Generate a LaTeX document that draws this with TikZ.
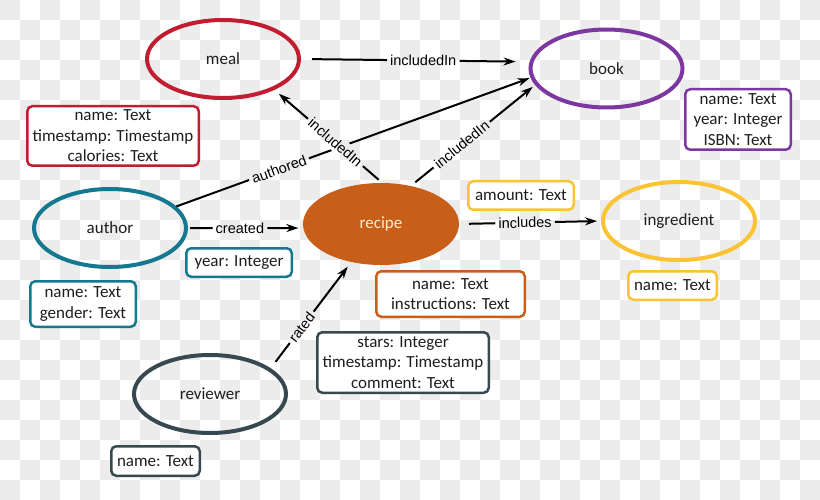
\documentclass[tikz,border=0pt]{standalone}
\usepackage{fontspec}
\setmainfont{Carlito}
\newfontfamily\relfont{Liberation Sans}
\usetikzlibrary{arrows.meta,shapes.geometric}

\definecolor{ink}{RGB}{30,30,30}
\definecolor{checker}{RGB}{236,236,236}
\definecolor{mealred}{RGB}{193,28,48}
\definecolor{bookpurple}{RGB}{125,55,160}
\definecolor{authorteal}{RGB}{20,120,145}
\definecolor{recipeorange}{RGB}{200,95,25}
\definecolor{recipetext}{RGB}{255,236,214}
\definecolor{ingredientyellow}{RGB}{250,195,50}
\definecolor{reviewerslate}{RGB}{55,72,80}

\begin{document}
\begin{tikzpicture}[x=1pt,y=-1pt,>={Stealth[length=12pt,width=8pt]},
    entity node/.style={ellipse,draw,line width=4pt,minimum width=152pt,minimum height=78pt,
                        font=\fontsize{17}{20}\selectfont,text=ink},
    prop node/.style={draw,rounded corners=5pt,line width=2.5pt,fill=white,align=center,
                      inner sep=0pt,font=\fontsize{17}{20.5}\selectfont,text=ink},
    rel label/.style={font=\relfont\fontsize{14.5}{16}\selectfont,sloped,inner sep=3pt,text=black},
    rel/.style={line width=2pt,draw=black}]

  % checkerboard background
  \useasboundingbox (0,0) rectangle (820,500);
  \fill[white] (0,0) rectangle (820,500);
  \foreach \j in {0,...,24}
    \foreach \i in {0,...,40}
      {\pgfmathtruncatemacro\odd{mod(\i+\j,2)}
       \ifnum\odd=0 \fill[checker] (20*\i,20*\j) rectangle +(20,20); \fi}

  % entities
  \node[entity node, draw=mealred] (meal) at (223,59) {meal};
  \node[entity node, draw=bookpurple] (book) at (606.5,68.5) {book};
  \node[entity node, draw=authorteal] (author) at (110,228) {author};
  \node[entity node, draw=recipeorange, fill=recipeorange, text=recipetext] (recipe) at (381,224) {recipe};
  \node[entity node, draw=ingredientyellow] (ingredient) at (679,221) {ingredient};
  \node[entity node, draw=reviewerslate] (reviewer) at (210,394) {reviewer};

  % properties
  \node[prop node, draw=mealred, minimum width=171.5pt, minimum height=59.5pt] (mealP) at (113,136)
    {name: Text\\timestamp: Timestamp\\calories: Text};
  \node[prop node, draw=bookpurple, minimum width=105.5pt, minimum height=60.5pt] (bookP) at (738,119.5)
    {name: Text\\year: Integer\\ISBN: Text};
  \node[prop node, draw=authorteal, minimum width=105.5pt, minimum height=45.5pt] (authorP) at (83,304)
    {name: Text\\gender: Text};
  \node[prop node, draw=authorteal, minimum width=105.5pt, minimum height=28.5pt] (createdP) at (239,262.5)
    {year: Integer};
  \node[prop node, draw=recipeorange, minimum width=148.5pt, minimum height=45.5pt] (recipeP) at (450.5,294)
    {name: Text\\instructions: Text};
  \node[prop node, draw=ingredientyellow, minimum width=105.5pt, minimum height=28.5pt] (includesP) at (521,195.5)
    {amount: Text};
  \node[prop node, draw=ingredientyellow, minimum width=88.5pt, minimum height=28.5pt] (ingredientP) at (672.5,285.5)
    {name: Text};
  \node[prop node, draw=reviewerslate, minimum width=171.5pt, minimum height=60.5pt] (ratedP) at (403,362.5)
    {stars: Integer\\timestamp: Timestamp\\comment: Text};
  \node[prop node, draw=reviewerslate, minimum width=88.5pt, minimum height=29.5pt] (reviewerP) at (155.5,461)
    {name: Text};

  % relationships: labels first, then lines clipped around them
  \def\rels{meal.east/book.175/0.535/includedIn/11pt/14pt,
            author.18/book.187/0.29/authored/0pt/1pt,
            recipe.88/meal.-31/0.435/includedIn/5pt/6pt,
            recipe.52/book.193/0.41/includedIn/6pt/3pt,
            author.east/recipe.183/0.45/created/2pt/5pt,
            recipe.east/ingredient.west/0.465/includes/10pt/4pt,
            reviewer.23/recipe.232/0.385/rated/8pt/6pt}
  \foreach \from/\to/\p/\txt/\sa/\sb [count=\k] in \rels
    \path (\from) -- (\to) node[rel label, pos=\p] (lab\k) {\txt};
  \begin{scope}[even odd rule]
    \clip (0,0) rectangle (820,500)
      \foreach \k in {1,...,7}{(lab\k.north west) -- (lab\k.north east) -- (lab\k.south east) -- (lab\k.south west) -- cycle};
    \foreach \from/\to/\p/\txt/\sa/\sb in \rels
      \draw[rel, ->, shorten <=\sa, shorten >=\sb] (\from) -- (\to);
  \end{scope}
\end{tikzpicture}
\end{document}
